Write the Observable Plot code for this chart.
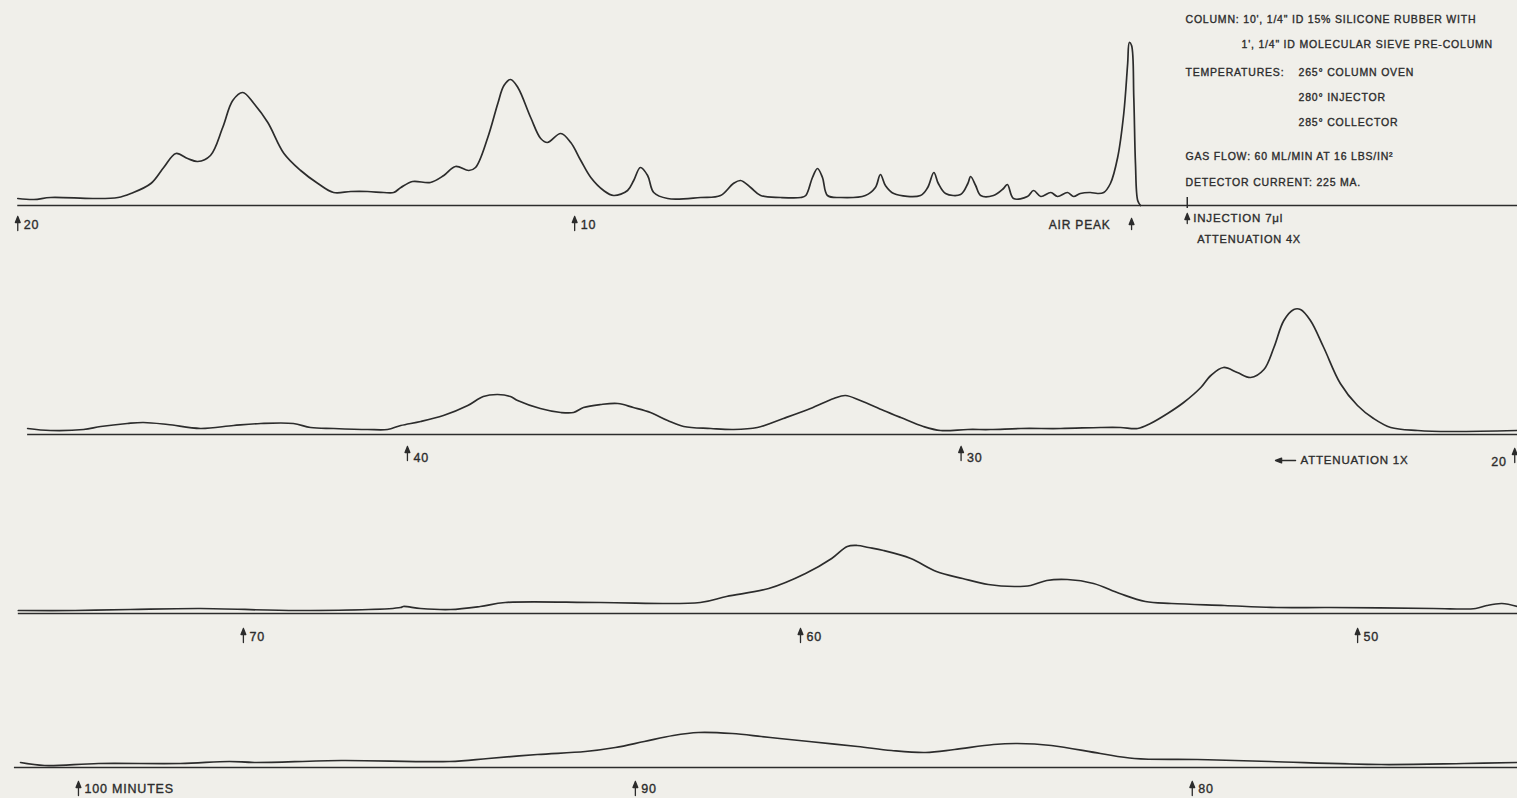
<!DOCTYPE html>
<html><head><meta charset="utf-8">
<script src="https://cdn.jsdelivr.net/npm/d3@7"></script>
<script src="https://cdn.jsdelivr.net/npm/@observablehq/plot@0.6"></script>
<style>
html,body{margin:0;padding:0;background:#f0efea;}
#chart{width:1517px;height:798px;overflow:hidden;}
#chart svg{display:block;}
#chart text{letter-spacing:0.8px;}
</style></head><body><div id="chart"></div>
<script>
// ---- Data (retention time in minutes, measured from the air peak; detector signal in chart units) ----
const row1Minutes = [20.00,19.71,19.41,18.64,18.20,17.97,17.61,17.38,17.16,16.95,16.77,16.54,16.32,16.14,15.96,15.76,15.51,15.22,14.92,14.61,14.33,14.02,13.72,13.43,13.25,13.12,12.91,12.59,12.35,12.14,11.90,11.78,11.56,11.38,11.27,11.15,11.02,10.79,10.61,10.49,10.25,10.07,9.89,9.71,9.48,9.30,9.05,8.94,8.82,8.69,8.58,8.33,7.74,7.38,7.15,7.02,6.84,6.66,6.30,5.94,5.85,5.73,5.64,5.55,5.46,5.22,4.78,4.60,4.51,4.42,4.27,3.79,3.66,3.55,3.47,3.34,3.07,2.94,2.89,2.80,2.71,2.48,2.30,2.23,2.12,1.87,1.76,1.63,1.45,1.33,1.15,1.04,0.92,0.74,0.61,0.50,0.38,0.25,0.14,0.07,0.04,0.00,-0.04,-0.07,-0.11,-0.16];
const row1Signal  = [7,6,8,7,8,12,22,38,52,47,44,50,78,105,113,102,83,52,35,22,13,14,14,13,13,18,24,23,30,39,35,38,68,102,120,126,118,88,67,63,72,63,45,28,15,10,15,25,38,30,13,7,8,10,22,25,18,10,8,8,10,28,37,28,10,8,10,18,31,20,12,10,18,33,22,12,11,22,29,20,10,10,17,21,7,9,15,9,13,9,13,9,12,13,12,13,22,48,92,142,163,160,108,42,5,0];

const row2Minutes = [46.86,46.45,45.85,45.54,45.06,44.77,44.33,43.74,43.14,42.65,42.06,41.75,41.33,40.72,40.36,40.12,39.76,39.35,38.91,38.63,38.37,38.14,38.01,37.60,37.23,37.00,36.82,36.51,36.20,35.92,35.61,35.30,35.01,34.52,34.11,33.68,33.21,32.72,32.30,32.09,31.82,31.40,31.09,30.68,30.37,29.88,29.47,28.92,28.20,27.48,27.12,26.81,26.58,26.27,25.98,25.67,25.49,25.26,25.01,24.77,24.53,24.35,24.17,23.99,23.87,23.69,23.45,23.15,22.84,22.55,22.24,21.75,21.16,19.95];
const row2Signal  = [6,4,5,8,11,12,10,6,9,11,11,7,6,5,5,9,13,19,29,38,40,38,34,26,22,22,27,30,31,27,22,14,8,6,5,7,16,26,36,39,34,24,17,8,4,5,5,6,6,7,7,6,11,21,32,47,59,67,62,57,65,87,114,125,125,114,87,51,29,16,7,4,3,4];

const row3Minutes = [74.04,73.02,72.03,70.77,68.98,67.18,67.13,66.82,66.28,65.75,65.30,63.59,61.80,61.33,60.57,59.91,59.44,59.16,58.98,58.78,58.51,58.02,57.56,57.09,56.63,56.16,55.87,55.58,55.21,54.74,54.27,53.81,53.34,52.39,51.45,50.50,48.64,47.88,47.68,47.41,47.13];
const row3Signal  = [3,3,4,5,3,6,7,5,4,7,11,11,11,17,25,40,55,67,68,66,63,55,42,35,29,27,28,33,34,30,20,12,10,8,6,6,5,5,8,10,7];

const row4Minutes = [101.04,100.61,99.64,98.17,97.29,96.84,95.28,93.34,92.64,91.76,90.90,90.36,89.84,89.32,88.87,88.26,87.74,87.41,86.88,86.01,85.40,84.79,84.27,83.57,83.14,82.53,81.65,81.04,79.91,78.60,76.61,75.12,74.16];
const row4Signal  = [5,2,4,4,6,5,7,6,9,13,16,20,26,32,35,34,31,29,26,21,17,15,18,23,24,22,14,9,8,6,3,4,5];

// time marks (arrows) and their labels
const row1Ticks = [20, 10];           const row1TickLabels = ["20", "10"];
const row2Ticks = [40, 30];           const row2TickLabels = ["40", "30"];
const row2EndTicks = [20];            const row2EndLabels = ["20"];
const row3Ticks = [70, 60, 50];       const row3TickLabels = ["70", "60", "50"];
const row4Ticks = [100, 90, 80];      const row4TickLabels = ["100 MINUTES", "90", "80"];

const airPeakMinute = [0];            const airPeakLabel = ["AIR PEAK"];
const injectionMinute = [-1.0];       const injectionLabels = ["INJECTION 7μl", "ATTENUATION 4X"];
const attenuationMinute = [24.32];    const attenuationLabel = ["ATTENUATION 1X"];

const noteLines = [
  "COLUMN: 10', 1/4\" ID 15% SILICONE RUBBER WITH",
  "1', 1/4\" ID MOLECULAR SIEVE PRE-COLUMN",
  "TEMPERATURES:",
  "265° COLUMN OVEN",
  "280° INJECTOR",
  "285° COLLECTOR",
  "GAS FLOW: 60 ML/MIN AT 16 LBS/IN²",
  "DETECTOR CURRENT: 225 MA."
];

// ---- Layout / style ----
const ink = "#2c2c2c";
const W = 1517;
const noteLayout = [[1185,19],[1241,44],[1185,72],[1298,72],[1298,97],[1298,122],[1185,156],[1185,182]];
const arrowShape = {draw(c, l) {
  c.moveTo(0, 0); c.lineTo(0, -l);
  c.moveTo(0, -l); c.lineTo(-2.4, -l + 6); c.lineTo(2.4, -l + 6); c.closePath();
}};
const font = {fontFamily: "Liberation Sans, Arial, sans-serif", fill: ink, stroke: ink, strokeWidth: 0.35};

function rowPlot(cfg) {
  const trace = cfg.minutes.map((t, i) => ({t, s: cfg.signal[i]}));
  const ticks = cfg.ticks.map((t, i) => ({t, label: cfg.labels[i]}));
  const base = cfg.height - cfg.marginBottom;
  return Plot.plot({
    width: W, height: cfg.height,
    marginTop: 0, marginBottom: cfg.marginBottom, marginLeft: 0, marginRight: 0,
    x: {domain: cfg.window, axis: null},
    y: {domain: [0, base], axis: null},
    style: {background: "transparent", overflow: "visible"},
    marks: [
      Plot.ruleY([0], {x1: cfg.ruleFrom, x2: cfg.ruleTo, stroke: ink, strokeWidth: 1.5}),
      Plot.line(trace, {x: "t", y: "s", curve: "catmull-rom", stroke: ink, strokeWidth: 1.7}),
      Plot.vector(ticks, {x: "t", y: -cfg.arrowBase, length: 14, anchor: "start", shape: arrowShape, stroke: ink, fill: ink, strokeWidth: 1.3}),
      Plot.text(ticks, {x: "t", y: 0, text: "label", dx: 6, dy: cfg.labelDy, textAnchor: "start", fontSize: 12.5, ...font}),
      ...(cfg.extra || [])
    ]
  });
}

const chart = document.getElementById("chart");

// Row 1
chart.appendChild(rowPlot({
  minutes: row1Minutes, signal: row1Signal, ticks: row1Ticks, labels: row1TickLabels,
  window: [20.31, -6.93], ruleFrom: 20.0, ruleTo: -6.93,
  height: 245, marginBottom: 40, arrowBase: 25, labelDy: 19,
  extra: [
    Plot.vector(airPeakMinute, {x: d => d, y: -24, length: 11, anchor: "start", shape: arrowShape, stroke: ink, fill: ink, strokeWidth: 1.3}),
    Plot.text(airPeakMinute, {x: d => d, y: 0, text: () => airPeakLabel[0], dx: -21, dy: 20, textAnchor: "end", fontSize: 12, ...font}),
    Plot.ruleX(injectionMinute, {x: d => d, y1: -3, y2: 8, stroke: ink, strokeWidth: 1.5}),
    Plot.vector(injectionMinute, {x: d => d, y: -18, length: 10, anchor: "start", shape: arrowShape, stroke: ink, fill: ink, strokeWidth: 1.3}),
    Plot.text(injectionMinute, {x: d => d, y: 0, text: () => injectionLabels[0], dx: 6, dy: 13, textAnchor: "start", fontSize: 11.5, ...font}),
    Plot.text(injectionMinute, {x: d => d, y: 0, text: () => injectionLabels[1], dx: 10, dy: 34, textAnchor: "start", fontSize: 11, ...font}),
    ...noteLines.map((line, i) => Plot.text([line], {
      frameAnchor: "top-left", dx: noteLayout[i][0], dy: noteLayout[i][1],
      textAnchor: "start", lineAnchor: "middle", fontSize: 10.5, ...font
    }))
  ]
}));

// Row 2
chart.appendChild(rowPlot({
  minutes: row2Minutes, signal: row2Signal, ticks: row2Ticks, labels: row2TickLabels,
  window: [47.35, 19.95], ruleFrom: 46.86, ruleTo: 19.95,
  height: 230, marginBottom: 41, arrowBase: 26, labelDy: 23,
  extra: [
    Plot.vector(row2EndTicks, {x: d => d, y: -28, length: 14, anchor: "start", shape: arrowShape, stroke: ink, fill: ink, strokeWidth: 1.3}),
    Plot.text(row2EndTicks, {x: d => d, y: 0, text: (d, i) => row2EndLabels[i], dx: -8, dy: 27, textAnchor: "end", fontSize: 12.5, ...font}),
    Plot.vector(attenuationMinute, {x: d => d, y: -26, length: 20, rotate: -90, anchor: "end", shape: arrowShape, stroke: ink, fill: ink, strokeWidth: 1.4}),
    Plot.text(attenuationMinute, {x: d => d, y: 0, text: () => attenuationLabel[0], dx: 25, dy: 26, textAnchor: "start", fontSize: 11.5, ...font})
  ]
}));

// Row 3
chart.appendChild(rowPlot({
  minutes: row3Minutes, signal: row3Signal, ticks: row3Ticks, labels: row3TickLabels,
  window: [74.36, 47.13], ruleFrom: 74.04, ruleTo: 47.13,
  height: 175, marginBottom: 37, arrowBase: 29, labelDy: 23
}));

// Row 4
chart.appendChild(rowPlot({
  minutes: row4Minutes, signal: row4Signal, ticks: row4Ticks, labels: row4TickLabels,
  window: [101.40, 74.16], ruleFrom: 101.15, ruleTo: 74.16,
  height: 148, marginBottom: 31, arrowBase: 28, labelDy: 21
}));
</script>
</body></html>
